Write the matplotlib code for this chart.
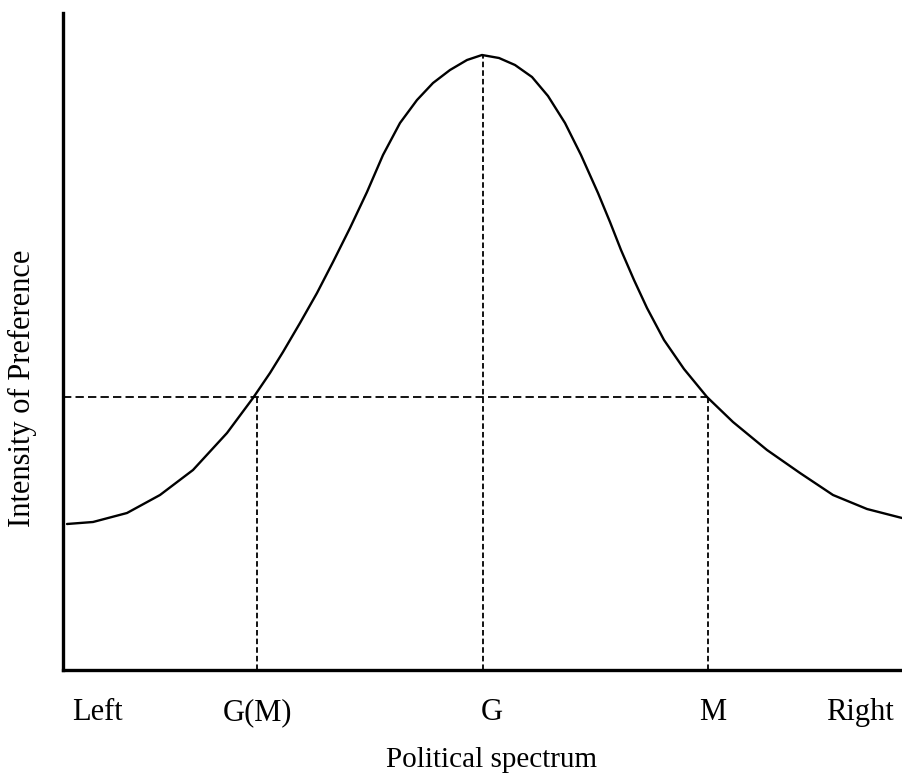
import matplotlib
matplotlib.use("Agg")
import matplotlib.pyplot as plt

plt.rcParams['font.family'] = ['Liberation Serif', 'DejaVu Serif']
plt.rcParams['lines.scale_dashes'] = False

# Curve: intensity of preference along the political spectrum
curve_x = [4, 30, 64, 97, 130, 164, 190, 207, 220, 237, 254, 270, 287, 304,
           320, 337, 354, 370, 387, 404, 419, 436, 452, 469, 485, 502, 518,
           535, 547, 558, 571, 584, 601, 621, 644, 670, 704, 737, 770, 804, 839]
curve_y = [146, 148, 157, 175, 200, 237, 272, 297, 318, 347, 377, 408, 442, 478,
           515, 547, 570, 587, 600, 610, 615, 612, 605, 593, 574, 547, 515,
           477, 448, 420, 390, 362, 330, 301, 273, 248, 220, 197, 175, 161, 152]

# Reference positions
gm_x = 194
g_x = 420
m_x = 645
level_y = 273
peak_y = 615

tick_pos = [34, 195, 429, 650, 797]
tick_labels = ["Left", "G(M)", "G", "M", "Right"]

W, H = 902, 778
fig = plt.figure(figsize=(W / 100, H / 100), dpi=100)
ax = fig.add_axes([63 / W, (H - 670) / H, (902 - 63) / W, (670 - 13) / H])
ax.set_xlim(0, 839)
ax.set_ylim(0, 657)

ax.plot(curve_x, curve_y, color='black', lw=1.7, solid_joinstyle='round',
        solid_capstyle='round', zorder=3)

hd = (0, (6, 3))
vd = (0, (4, 2.2))
ax.plot([0, m_x], [level_y, level_y], color='black', lw=1.3, linestyle=hd)
ax.plot([gm_x, gm_x], [0, level_y], color='black', lw=1.3, linestyle=vd)
ax.plot([g_x, g_x], [0, peak_y], color='black', lw=1.3, linestyle=vd)
ax.plot([m_x, m_x], [0, level_y], color='black', lw=1.3, linestyle=vd)

for s in ['top', 'right']:
    ax.spines[s].set_visible(False)
for s in ['left', 'bottom']:
    ax.spines[s].set_linewidth(2.4)

ax.set_yticks([])
ax.set_xticks(tick_pos)
ax.set_xticklabels(tick_labels, fontsize=22)
ax.tick_params(axis='x', length=0, pad=20)

fig.text(491 / W, 1 - 760 / H, "Political spectrum", fontsize=21,
         ha='center', va='center')
fig.text(22 / W, 1 - 388 / H, "Intensity of Preference", fontsize=22,
         rotation=90, ha='center', va='center')

fig.savefig("out.png", dpi=100)
